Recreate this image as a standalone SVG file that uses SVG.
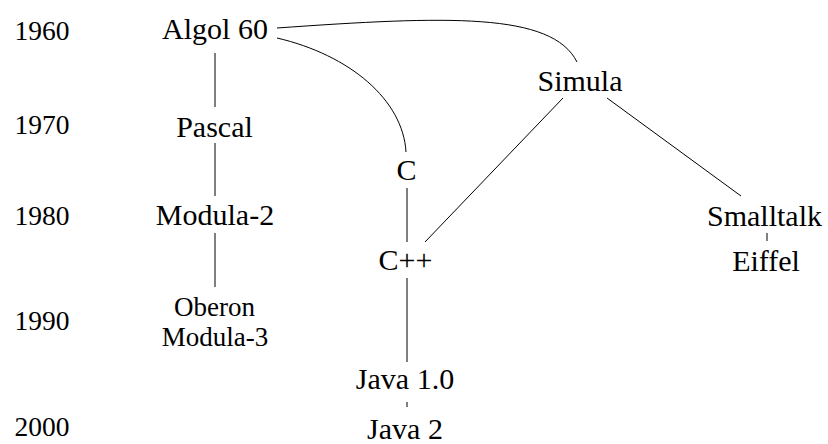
<svg xmlns="http://www.w3.org/2000/svg" width="828" height="444" viewBox="0 0 828 444">
<style>
.year{font-family:"Liberation Serif","Times New Roman",serif;font-size:27.5px;fill:#000}
.lbl{font-family:"Liberation Serif","Times New Roman",serif;font-size:30px;fill:#000;text-anchor:middle}
.lbl2{font-size:27px}
.edge{fill:none;stroke:#000;stroke-width:1}
</style>
<rect width="828" height="444" fill="#fff"/>
<g id="years">
<text class="year" x="14.5" y="40">1960</text>
<text class="year" x="14.5" y="134">1970</text>
<text class="year" x="14.5" y="225">1980</text>
<text class="year" x="14.5" y="330">1990</text>
<text class="year" x="14.5" y="436">2000</text>
</g>
<g id="connectors">
<line class="edge" x1="215" y1="53" x2="215" y2="107"/>
<line class="edge" x1="215" y1="143" x2="215" y2="196"/>
<line class="edge" x1="215" y1="233" x2="215" y2="287"/>
<path class="edge" d="M277,28 C447,16 552,12 577,62"/>
<path class="edge" d="M277,38 C350,55 403,100 406,152"/>
<line class="edge" x1="563" y1="98" x2="425" y2="242"/>
<line class="edge" x1="607" y1="98" x2="741" y2="196"/>
<line class="edge" x1="407" y1="188" x2="407" y2="242"/>
<line class="edge" x1="407" y1="278" x2="407" y2="362"/>
<line class="edge" x1="407" y1="402" x2="407" y2="407"/>
<line class="edge" x1="767" y1="233" x2="767" y2="241"/>
</g>
<g id="algol60"><text class="lbl" x="215" y="39">Algol 60</text></g>
<g id="pascal"><text class="lbl" x="214.5" y="136.5">Pascal</text></g>
<g id="modula2"><text class="lbl" x="215" y="225">Modula-2</text></g>
<g id="oberon"><text class="lbl lbl2" x="214.5" y="315.5">Oberon</text><text class="lbl lbl2" x="215" y="345.5">Modula-3</text></g>
<g id="simula"><text class="lbl" x="580" y="91">Simula</text></g>
<g id="c"><text class="lbl" x="406.5" y="180">C</text></g>
<g id="cpp"><text class="lbl" x="405.5" y="269.5">C++</text></g>
<g id="smalltalk"><text class="lbl" x="764.5" y="226">Smalltalk</text></g>
<g id="eiffel"><text class="lbl" x="766" y="270.5">Eiffel</text></g>
<g id="java10"><text class="lbl" x="405" y="388.5">Java 1.0</text></g>
<g id="java2"><text class="lbl" x="405" y="438.5">Java 2</text></g>
</svg>
